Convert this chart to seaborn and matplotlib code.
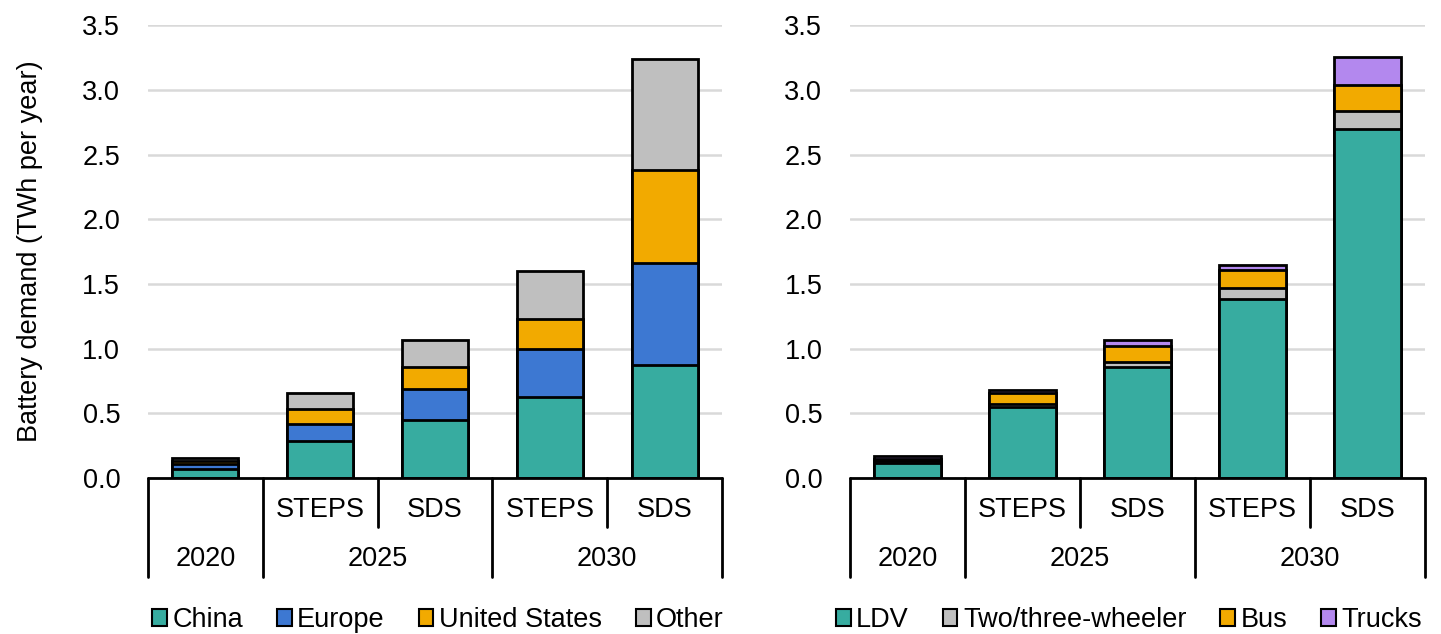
import pandas as pd
import seaborn as sns
import matplotlib
matplotlib.use("Agg")
import matplotlib.pyplot as plt
from matplotlib.patches import Patch

# bar keys, left to right
bars = ["2020", "2025 STEPS", "2025 SDS", "2030 STEPS", "2030 SDS"]
scenario_labels = ["", "STEPS", "SDS", "STEPS", "SDS"]
year_labels = ["2020", "2025", "2030"]

# left panel: by region (TWh per year)
china = [0.07, 0.29, 0.45, 0.63, 0.87]
europe = [0.04, 0.13, 0.24, 0.365, 0.79]
united_states = [0.02, 0.11, 0.17, 0.235, 0.72]
other = [0.025, 0.13, 0.21, 0.37, 0.86]

# right panel: by mode
ldv = [0.12, 0.55, 0.86, 1.38, 2.70]
two_three = [0.01, 0.025, 0.04, 0.09, 0.14]
bus = [0.02, 0.08, 0.12, 0.14, 0.20]
trucks = [0.02, 0.025, 0.05, 0.04, 0.21]

region_series = [("China", china, "#37ACA0"), ("Europe", europe, "#3D78D2"),
                 ("United States", united_states, "#F2AA00"), ("Other", other, "#BFBFBF")]
mode_series = [("LDV", ldv, "#37ACA0"), ("Two/three-wheeler", two_three, "#BFBFBF"),
               ("Bus", bus, "#F2AA00"), ("Trucks", trucks, "#B388EE")]

FS = 19.5


def stacked_bars(ax, series):
    # draw cumulative totals, tallest first, so each segment shows on top of the previous
    cum = []
    running = [0.0] * len(bars)
    for name, vals, color in series:
        running = [r + v for r, v in zip(running, vals)]
        cum.append((name, list(running), color))
    for name, tops, color in reversed(cum):
        df = pd.DataFrame({"bar": bars, "value": tops})
        sns.barplot(data=df, x="bar", y="value", order=bars, color=color,
                    width=0.575, edgecolor="black", linewidth=2, saturation=1,
                    ax=ax, zorder=3)


def category_axis(ax):
    trans = ax.transAxes
    n = len(bars)
    bottom = -0.2185
    mid = -0.108
    kw = dict(color="black", lw=2, transform=trans, clip_on=False, zorder=5)
    ax.plot([0, 1], [0, 0], **kw)
    # full-height dividers: edges and year boundaries
    for x in [0, 1, 3, 5]:
        ax.plot([x / n, x / n], [0, bottom], **kw)
    # scenario dividers inside a year
    for x in [2, 4]:
        ax.plot([x / n, x / n], [0, mid], **kw)
    for i, lab in enumerate(scenario_labels):
        ax.text((i + 0.5) / n, -0.070, lab, transform=trans, ha="center", va="center",
                fontsize=FS, color="black")
    year_centers = [0.5, 2.0, 4.0]
    for xc, lab in zip(year_centers, year_labels):
        ax.text(xc / n, -0.178, lab, transform=trans, ha="center", va="center",
                fontsize=FS, color="black")


def style_axis(ax):
    ax.set_xlim(-0.5, 4.5)
    ax.set_ylim(0, 3.5)
    ax.set_yticks([0, 0.5, 1.0, 1.5, 2.0, 2.5, 3.0, 3.5])
    ax.set_yticklabels([f"{v:.1f}" for v in ax.get_yticks()], fontsize=FS, color="black")
    ax.set_xticks([])
    ax.set_xlabel("")
    ax.set_ylabel("")
    ax.grid(axis="y", color="#d9d9d9", lw=1.8, zorder=0)
    ax.grid(axis="x", visible=False)
    ax.tick_params(axis="y", length=0, pad=20)
    for s in ax.spines.values():
        s.set_visible(False)


sns.set_theme(style="white")
plt.rcParams["font.family"] = ["Liberation Sans", "DejaVu Sans"]
plt.rcParams["text.color"] = "black"

fig = plt.figure(figsize=(14.41, 6.34), dpi=100)
ax1 = fig.add_axes([0.1027, 0.246, 0.3983, 0.7144])
ax2 = fig.add_axes([0.5899, 0.246, 0.3990, 0.7144])

legend_x = [0.505, 0.485]
for ax, series, lx in [(ax1, region_series, legend_x[0]), (ax2, mode_series, legend_x[1])]:
    stacked_bars(ax, series)
    style_axis(ax)
    category_axis(ax)
    handles = [Patch(facecolor=c, edgecolor="black", lw=1.5, label=n) for n, _, c in series]
    ax.legend(handles=handles, loc="center", bbox_to_anchor=(lx, -0.313), ncol=4,
              frameon=False, fontsize=FS, handlelength=0.55, handleheight=0.6,
              handletextpad=0.2, columnspacing=1.25, borderaxespad=0,
              labelcolor="black")

ax1.set_ylabel("Battery demand (TWh per year)", fontsize=FS, labelpad=28, color="black")

fig.savefig("out.png", dpi=100)
